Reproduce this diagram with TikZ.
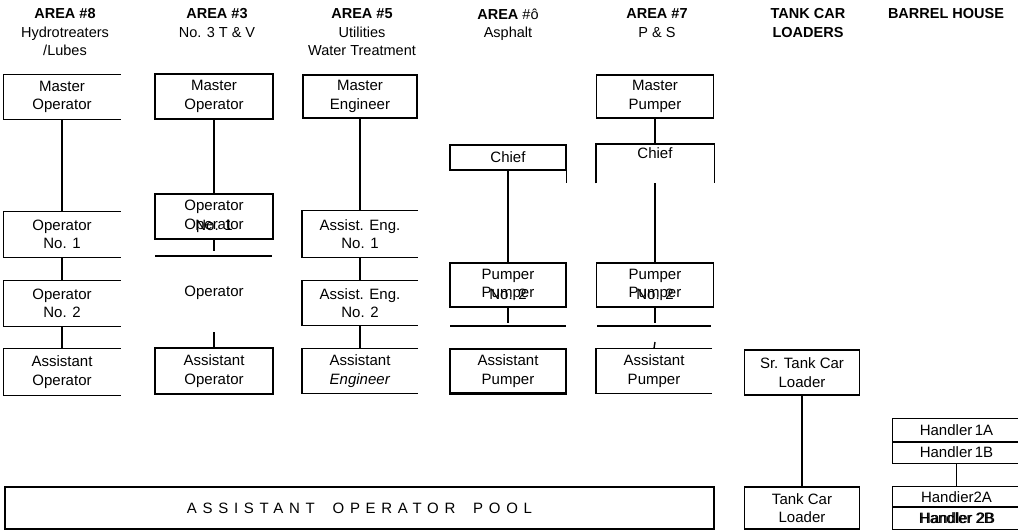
\documentclass[tikz,border=0pt]{standalone}
\usepackage{fontspec}
\setmainfont{Liberation Sans}
\usepackage{tikz}
\usetikzlibrary{positioning}

\begin{document}
\begin{tikzpicture}[x=1pt, y=-1pt, line width=1.4pt,
    job/.style={draw, align=center, inner sep=0pt, minimum width=116pt,
      minimum height=44pt, font=\fontsize{15}{18.5}\selectfont},
    openbox/.style={job, draw=none},
    overlay text/.style={job, draw=none},
    head/.style={align=center, anchor=north, inner sep=0pt,
      font=\fontsize{14.5}{18.5}\selectfont},
    handler/.style={openbox, minimum width=127pt}]
    \useasboundingbox (0,0) rectangle (1018,532);

    % headings
    \node[head] (a8) at (65,8) {\textbf{AREA \#8}\\Hydrotreaters\\/Lubes};
    \node[head] (a3) at (217,8) {\textbf{AREA \#3}\\No. 3 T \& V};
    \node[head] (a5) at (362,8) {\textbf{AREA \#5}\\Utilities\\Water Treatment};
    \node[head] (a6) at (508,8) {\textbf{AREA} \#ô\\Asphalt};
    \node[head] (a7) at (657,8) {\textbf{AREA \#7}\\P \& S};
    \node[head] (tc) at (808,8) {\textbf{TANK CAR}\\\textbf{LOADERS}};
    \node[head] (bh) at (946,8) {\textbf{BARREL HOUSE}};

    % area 8
    \node[openbox] (m8) at (62,97) {Master\\Operator};
    \node[openbox, minimum height=45pt] (op81) at (62,234.5) {Operator\\No. 1};
    \node[openbox, minimum height=45pt] (op82) at (62,303.5) {Operator\\No. 2};
    \node[openbox, minimum height=46pt] (as8) at (62,372) {Assistant\\Operator};

    % area 3
    \node[job, minimum width=118pt, minimum height=45pt] (m3) at (214,96.5) {Master\\Operator};
    \node[job, minimum width=118pt, minimum height=45pt] (op3) at (214,216.5) {Operator\\Operator};
    \node[overlay text] (op3x) at (op3.center) {\phantom{Operator}\\No. 1};
    \node[job, draw=none, minimum height=20pt] (op3b) at (214,293) {Operator};
    \node[job, minimum width=118pt, minimum height=46pt] (as3) at (214,371) {Assistant\\Operator};
    \coordinate (op3s) at (214,251);
    \coordinate (as3t) at (214,332);
    \coordinate (l3a) at (155,256);
    \coordinate (l3b) at (272,256);

    % area 5
    \node[job, minimum width=114pt, minimum height=43pt] (m5) at (360,96.5) {Master\\Engineer};
    \node[openbox, minimum width=115pt, minimum height=46pt] (ae1) at (360,234) {Assist. Eng.\\No. 1};
    \node[openbox, minimum width=115pt] (ae2) at (360,303) {Assist. Eng.\\No. 2};
    \node[openbox, minimum width=115pt] (as5) at (360,371) {Assistant\\\textit{Engineer}};

    % area 6
    \node[job, minimum height=25pt] (ch6) at (508,157.5) {Chief};
    \node[job] (pu6) at (508,285) {Pumper\\Pumper};
    \node[overlay text] (pu6x) at (pu6.center) {\phantom{Pumper}\\No. 2};
    \node[job] (as6) at (508,371) {Assistant\\Pumper};
    \coordinate (pu6s) at (508,323);
    \coordinate (l6a) at (450,326);
    \coordinate (l6b) at (566,326);

    % area 7
    \node[job, minimum width=117pt, minimum height=43pt] (m7) at (655,96.5) {Master\\Pumper};
    \node[openbox, minimum width=117pt, minimum height=38pt, anchor=north] (ch7) at (655,144) {Chief\\\phantom{Pumper}};
    \node[job, minimum width=117pt] (pu7) at (655,285) {Pumper\\Pumper};
    \node[overlay text] (pu7x) at (pu7.center) {\phantom{Pumper}\\No. 2};
    \node[openbox, minimum width=115pt] (as7) at (654,371) {Assistant\\Pumper};
    \coordinate (pu7s) at (655,323);
    \coordinate (as7t) at (655,342);
    \coordinate (l7a) at (597,326);
    \coordinate (l7b) at (711,326);

    % tank car loaders
    \node[job, minimum width=115pt, minimum height=45pt] (sr) at (802,372.5) {Sr. Tank Car\\Loader};
    \node[job, minimum width=115pt, minimum height=42pt] (tcl) at (802,508) {Tank Car\\Loader};

    % barrel house
    \node[handler, minimum height=23pt] (h1a) at (956.5,430.5) {Handler\,1A};
    \node[handler, minimum height=21pt] (h1b) at (956.5,452.5) {Handler\,1B};
    \node[handler, minimum height=20pt] (h2a) at (956.5,497) {Handier2A};
    \node[handler, minimum height=22pt] (h2b) at (956.5,518) {Handler 2B};
    \node[overlay text, minimum width=0pt, minimum height=0pt] (h2bx) at ([xshift=1.2pt]h2b.center) {Handler 2B};

    % pool
    \node[job, minimum width=709pt, minimum height=42pt] (pool) at (359.5,508)
      {\addfontfeature{LetterSpace=38}ASSISTANT\hspace{8pt} OPERATOR\hspace{8pt} POOL};

    % open sided boxes
    \foreach \n in {m8,op81,op82,as8,ae1,ae2,as5,as7,h1a,h1b,h2a,h2b}
      \draw (\n.north east) -- (\n.north west) -- (\n.south west) -- (\n.south east);
    \draw (ch7.south west) -- (ch7.north west) -- (ch7.north east) -- (ch7.south east);
    \draw (ch6.south east) -- ++(0,12);
    \draw[line width=2.2pt] (as6.south west) -- (as6.south east);

    % rules
    \draw (l3a) -- (l3b);
    \draw (l6a) -- (l6b);
    \draw (l7a) -- (l7b);

    \path
    (m8.south) edge (op81.north)
    (op81.south) edge (op82.north)
    (op82.south) edge (as8.north)
    (m3.south) edge (op3.north)
    (op3.south) edge (op3s)
    (as3t) edge (as3.north)
    (m5.south) edge (ae1.north)
    (ae1.south) edge (ae2.north)
    (ae2.south) edge (as5.north)
    (ch6.south) edge (pu6.north)
    (pu6.south) edge (pu6s)
    (m7.south) edge (ch7.north)
    (ch7.south) edge (pu7.north)
    (pu7.south) edge (pu7s)
    (as7t) edge (as7.north)
    (sr.south) edge (tcl.north)
    (h1b.south) edge (h2a.north)
    ;
\end{tikzpicture}
\end{document}
